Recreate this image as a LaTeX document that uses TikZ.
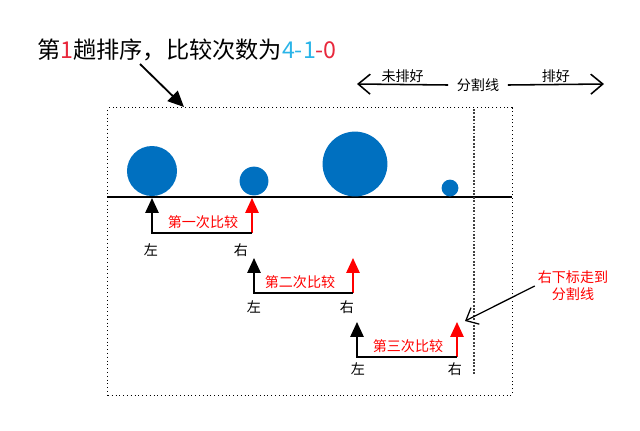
\documentclass[tikz,border=0pt]{standalone}
\usepackage{fontspec}
\setmainfont{Liberation Sans}
\newfontfamily\cjkfont{Noto Sans CJK SC}
\usepackage{tikz}
\usetikzlibrary{arrows.meta, positioning}
\definecolor{ballcolor}{HTML}{0070C0}
\definecolor{cmpcolor}{HTML}{FF0000}
\definecolor{cntblue}{HTML}{2AB4E8}
\definecolor{cntred}{HTML}{E8283C}

\begin{document}
\begin{tikzpicture}[x=0.025cm, y=-0.025cm,
    every node/.style={font=\cjkfont\fontsize{10}{12}\selectfont, align=center, inner sep=2pt},
    ball/.style={circle, fill=ballcolor, inner sep=0pt},
    frame/.style={draw, dotted, line width=0.7pt,
                  minimum width=10.1cm, minimum height=7.175cm},
    splitline/.style={draw=black!75, line width=1.3pt, dash pattern=on 1.3pt off 1.1pt},
    lptr/.style={-{Triangle[length=3.7mm, width=3.3mm]}, line width=1.2pt, draw=black},
    rptr/.style={-{Triangle[length=3.7mm, width=3.3mm]}, line width=1.2pt, draw=cmpcolor},
    cmplabel/.style={text=cmpcolor},
    barb/.style={-{Straight Barb[length=2.6mm, width=4.6mm]}, line width=0.9pt},
    legarr/.style={-{Straight Barb[length=3mm, width=5mm]}, line width=1.1pt},
    bigarr/.style={-{Triangle[length=4mm, width=3.6mm]}, line width=1.3pt}
]
    \useasboundingbox (0,0) rectangle (640,430);

    % Title
    \node[font=\cjkfont\fontsize{16.5}{19}\selectfont] (title) at (187,50)
        {第{\color{cntred}1}趟排序，比较次数为{\color{cntblue}4-1}{\color{cntred}-0}};
    \coordinate (ttail) at (140,64);
    \coordinate (thead) at (184,107);
    \draw[bigarr] (ttail) -- (thead);

    % Legend: unsorted / split / sorted
    \node[inner xsep=6pt] (split) at (478,85) {分割线};
    \coordinate (lend) at (357,84);
    \coordinate (rend) at (604,84);
    \draw[legarr] (split.west) -- (lend) node[midway, above=-1pt] (unsorted) {未排好};
    \draw[legarr] (split.east) -- (rend) node[midway, above=-1pt] (sorted) {排好};

    % Frame, base line and split line
    \node[frame] (frame) at (310,251.5) {};
    \coordinate (basel) at (107,197);
    \coordinate (baser) at (512,197);
    \draw[line width=1pt] (basel) -- (baser);
    \coordinate (splittop) at (474,109);
    \coordinate (splitbot) at (474,375);
    \draw[splitline] (splittop) -- (splitbot);

    % Balls
    \node[ball, minimum size=1.25cm] (ball1) at (152,171) {};
    \node[ball, minimum size=0.72cm] (ball2) at (254,181) {};
    \node[ball, minimum size=1.62cm] (ball3) at (355,164) {};
    \node[ball, minimum size=0.42cm] (ball4) at (450,188) {};

    % First comparison
    \coordinate (lo1) at (152,233);
    \coordinate (lt1) at (152,198);
    \coordinate (ro1) at (252,233);
    \coordinate (rt1) at (252,198);
    \draw[rptr] (ro1) -- (rt1);
    \draw[lptr] (ro1) -- (lo1) -- (lt1);
    \node[cmplabel] (cmp1) at (203,222) {第一次比较};
    \node (left1) at (151,250) {左};
    \node (right1) at (241,250) {右};

    % Second comparison
    \coordinate (lo2) at (254,293);
    \coordinate (lt2) at (254,258);
    \coordinate (ro2) at (353,293);
    \coordinate (rt2) at (353,258);
    \draw[rptr] (ro2) -- (rt2);
    \draw[lptr] (ro2) -- (lo2) -- (lt2);
    \node[cmplabel] (cmp2) at (300,282) {第二次比较};
    \node (left2) at (254,307) {左};
    \node (right2) at (347,307) {右};

    % Third comparison
    \coordinate (lo3) at (357,357);
    \coordinate (lt3) at (357,322);
    \coordinate (ro3) at (457,357);
    \coordinate (rt3) at (457,322);
    \draw[rptr] (ro3) -- (rt3);
    \draw[lptr] (ro3) -- (lo3) -- (lt3);
    \node[cmplabel] (cmp3) at (408,346) {第三次比较};
    \node (left3) at (358,369) {左};
    \node (right3) at (455,369) {右};

    % Note on the split line
    \node[cmplabel] (note) at (573,286) {右下标走到\\分割线};
    \coordinate (notehead) at (465,321);
    \draw[barb] (note.west) -- (notehead);
\end{tikzpicture}
\end{document}
